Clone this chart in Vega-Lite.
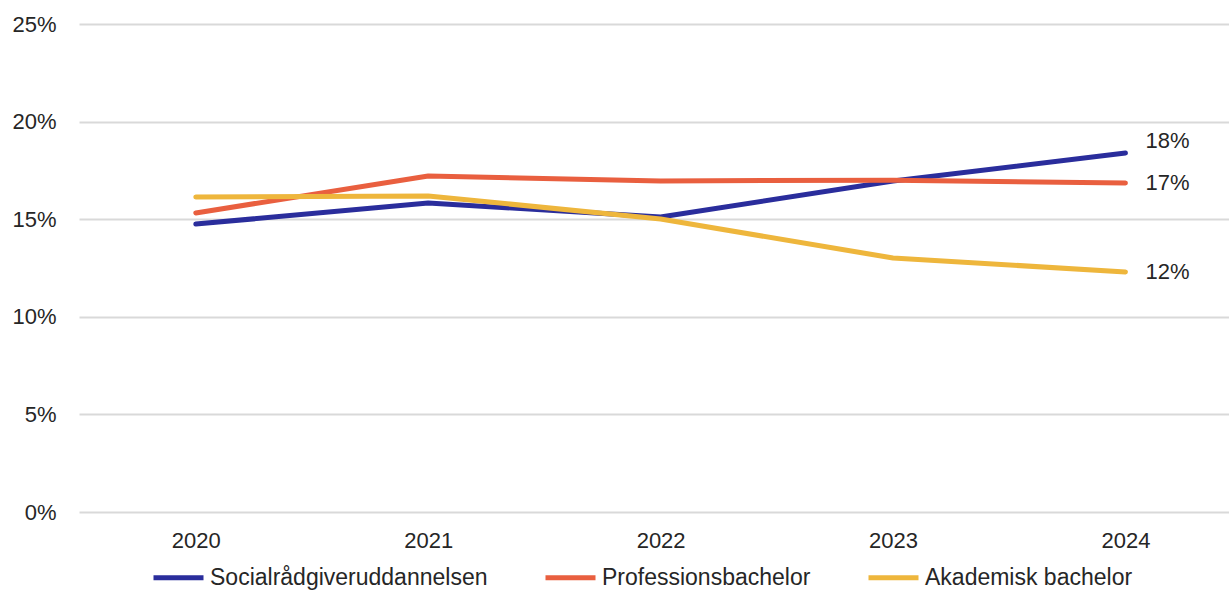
{
  "$schema": "https://vega.github.io/schema/vega-lite/v6.json",
  "width": 1150,
  "height": 488,
  "autosize": {"type": "none"},
  "padding": {"left": 79, "top": 24, "right": 0, "bottom": 78},
  "background": "white",
  "config": {
    "view": {"stroke": null},
    "font": "Liberation Sans",
    "axis": {"labelFont": "Liberation Sans", "labelFontSize": 22, "labelColor": "#262626"},
    "legend": {"labelFont": "Liberation Sans", "labelFontSize": 23, "labelColor": "#262626", "labelLimit": 500}
  },
  "data": {
    "values": [
      {"year": "2020", "series": "Socialrådgiveruddannelsen", "value": 0.1475},
      {"year": "2021", "series": "Socialrådgiveruddannelsen", "value": 0.1583},
      {"year": "2022", "series": "Socialrådgiveruddannelsen", "value": 0.1511},
      {"year": "2023", "series": "Socialrådgiveruddannelsen", "value": 0.1696},
      {"year": "2024", "series": "Socialrådgiveruddannelsen", "value": 0.1839},
      {"year": "2020", "series": "Professionsbachelor", "value": 0.1532},
      {"year": "2021", "series": "Professionsbachelor", "value": 0.1721},
      {"year": "2022", "series": "Professionsbachelor", "value": 0.1696},
      {"year": "2023", "series": "Professionsbachelor", "value": 0.1700},
      {"year": "2024", "series": "Professionsbachelor", "value": 0.1685},
      {"year": "2020", "series": "Akademisk bachelor", "value": 0.1614},
      {"year": "2021", "series": "Akademisk bachelor", "value": 0.1619},
      {"year": "2022", "series": "Akademisk bachelor", "value": 0.1501},
      {"year": "2023", "series": "Akademisk bachelor", "value": 0.1301},
      {"year": "2024", "series": "Akademisk bachelor", "value": 0.1230}
    ]
  },
  "encoding": {
    "x": {
      "field": "year", "type": "ordinal", "title": null,
      "scale": {"type": "point", "padding": 0.474, "align": 0.53},
      "axis": {"labelAngle": 0, "domain": false, "ticks": false, "labelPadding": 18, "grid": false}
    },
    "y": {
      "field": "value", "type": "quantitative", "title": null,
      "scale": {"domain": [0, 0.25], "nice": false},
      "axis": {"format": ".0%", "values": [0, 0.05, 0.1, 0.15, 0.2, 0.25], "domain": false, "ticks": false, "labelPadding": 23, "gridColor": "#d9d9d9", "gridWidth": 2}
    },
    "color": {
      "field": "series", "type": "nominal",
      "scale": {
        "domain": ["Socialrådgiveruddannelsen", "Professionsbachelor", "Akademisk bachelor"],
        "range": ["#2a2d9c", "#e95f3f", "#eeb63c"]
      },
      "legend": {
        "orient": "none", "legendX": 72, "legendY": 526, "direction": "horizontal",
        "title": null, "symbolType": "stroke", "symbolSize": 2500, "symbolStrokeWidth": 5,
        "labelOffset": 4, "columnPadding": 47, "symbolOpacity": 1, "labelLimit": 500
      }
    }
  },
  "layer": [
    {"mark": {"type": "line", "strokeWidth": 5, "strokeCap": "round", "strokeJoin": "round"}},
    {
      "transform": [{"filter": "datum.year == '2024' && datum.series == 'Socialrådgiveruddannelsen'"}],
      "mark": {"type": "text", "align": "left", "dx": 20, "dy": -12, "fontSize": 22, "color": "#262626"},
      "encoding": {"text": {"field": "value", "type": "quantitative", "format": ".0%"}, "color": {"value": "#262626"}}
    },
    {
      "transform": [{"filter": "datum.year == '2024' && datum.series != 'Socialrådgiveruddannelsen'"}],
      "mark": {"type": "text", "align": "left", "dx": 20, "dy": 0, "fontSize": 22, "color": "#262626"},
      "encoding": {"text": {"field": "value", "type": "quantitative", "format": ".0%"}, "color": {"value": "#262626"}}
    }
  ]
}
